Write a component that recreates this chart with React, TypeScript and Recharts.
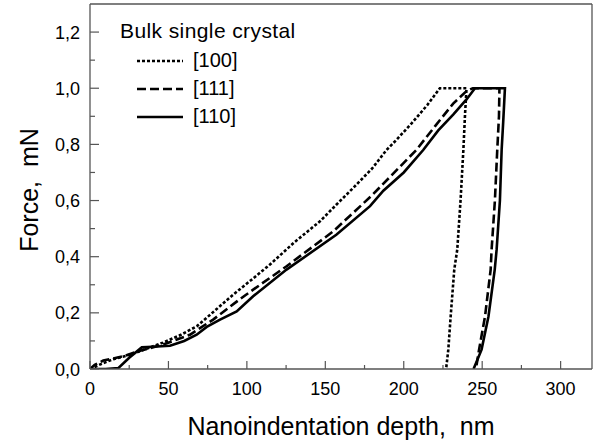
import { LineChart, Line, XAxis, YAxis, ReferenceLine } from "recharts";

// [100] orientation, dotted curve (loading -> hold -> unloading)
const depth100 = [0, 8, 15, 25.5, 35, 46.6, 58, 68, 79, 91.3, 103, 114.7, 130, 146.6, 157, 167.8, 180, 189, 195.5, 205, 215, 223, 240, 239, 238, 236.2, 234.1, 232.2, 229.9, 228.4, 227];
const force100 = [0, 0.02, 0.035, 0.051, 0.07, 0.094, 0.122, 0.152, 0.205, 0.265, 0.318, 0.372, 0.45, 0.526, 0.585, 0.645, 0.715, 0.78, 0.817, 0.875, 0.94, 1.0, 1.0, 0.9, 0.78, 0.6, 0.425, 0.354, 0.187, 0.069, 0];

// [111] orientation, dashed curve
const depth111 = [0, 3, 8.5, 21, 30.8, 46.6, 63.7, 78.5, 93.5, 98.8, 125.3, 155, 180, 208, 220, 231.5, 240, 244, 261, 260.7, 259.6, 258.1, 256, 255.4, 251.8, 248, 246];
const force111 = [0, 0.015, 0.03, 0.045, 0.063, 0.087, 0.122, 0.176, 0.24, 0.262, 0.366, 0.49, 0.62, 0.78, 0.865, 0.945, 0.99, 1.0, 1.0, 0.9, 0.78, 0.6, 0.425, 0.354, 0.187, 0.069, 0];

// [110] orientation, solid curve
const depth110 = [0, 10, 18, 25, 33, 40, 51, 60, 68, 74.4, 82.9, 93.5, 104, 125.3, 157, 178.5, 187, 200, 212.4, 222, 231.5, 240, 245.4, 264.5, 263.4, 262.4, 261.3, 259.2, 258, 254, 249.6, 244.5];
const force110 = [0, 0, 0.003, 0.04, 0.077, 0.079, 0.083, 0.1, 0.122, 0.15, 0.176, 0.205, 0.259, 0.354, 0.478, 0.58, 0.635, 0.7, 0.78, 0.85, 0.906, 0.96, 1.0, 1.0, 0.88, 0.78, 0.6, 0.425, 0.354, 0.187, 0.069, 0];

const xTicks = [0, 25, 50, 75, 100, 125, 150, 175, 200, 225, 250, 275, 300];
const yTicks = [0, 0.1, 0.2, 0.3, 0.4, 0.5, 0.6, 0.7, 0.8, 0.9, 1.0, 1.1, 1.2];

const series = [
  { name: "[100]", depth: depth100, force: force100, dash: "3 2" },
  { name: "[111]", depth: depth111, force: force111, dash: "9 4" },
  { name: "[110]", depth: depth110, force: force110, dash: undefined },
];

const PLOT_LEFT = 90;
const PLOT_BOTTOM = 369;
const AXIS_COLOR = "#555";
const FONT = "'Liberation Sans', Arial, sans-serif";

function zip(depth: number[], force: number[]) {
  return depth.map((d, i) => ({ depth: d, force: force[i] }));
}

function YTick(props: any) {
  const { y, payload } = props;
  const v = payload.value as number;
  const major = Math.round(v * 10) % 2 === 0;
  return (
    <g>
      <line x1={PLOT_LEFT} x2={PLOT_LEFT + (major ? 9 : 5)} y1={y} y2={y} stroke={AXIS_COLOR} strokeWidth={1.2} />
      {major && (
        <text x={PLOT_LEFT - 10} y={y} dy={6.5} textAnchor="end" fontSize={18} fontFamily={FONT} fill="#000">
          {v.toFixed(1).replace(".", ",")}
        </text>
      )}
    </g>
  );
}

function XTick(props: any) {
  const { x, payload } = props;
  const v = payload.value as number;
  const major = v % 50 === 0;
  return (
    <g>
      <line x1={x} x2={x} y1={PLOT_BOTTOM} y2={PLOT_BOTTOM - (major ? 8 : 4)} stroke={AXIS_COLOR} strokeWidth={1.2} />
      {major && (
        <text x={x} y={PLOT_BOTTOM + 26} textAnchor="middle" fontSize={18} fontFamily={FONT} fill="#000">
          {v}
        </text>
      )}
    </g>
  );
}

function ChartLegend() {
  return (
    <svg width={220} height={130} style={{ position: "absolute", left: 110, top: 10 }}>
      <text x={10} y={28} fontSize={21} letterSpacing={0.4} fontFamily={FONT} fill="#000">
        Bulk single crystal
      </text>
      {series.map((s, i) => (
        <g key={s.name}>
          <line x1={27} x2={73} y1={51 + i * 28} y2={51 + i * 28} stroke="#000" strokeWidth={2.6} strokeDasharray={s.dash} />
          <text x={83} y={57 + i * 28} fontSize={20} fontFamily={FONT} fill="#000">
            {s.name}
          </text>
        </g>
      ))}
    </svg>
  );
}

export default function App() {
  return (
    <div style={{ position: "absolute", left: 0, top: 0, width: 606, height: 445, background: "#fff" }}>
      <LineChart width={606} height={445} margin={{ top: 4, right: 14, left: 0, bottom: 0 }}>
        <XAxis
          type="number"
          dataKey="depth"
          domain={[0, 320]}
          ticks={xTicks}
          interval={0}
          height={76}
          tickLine={false}
          tickSize={0}
          tick={<XTick />}
          axisLine={{ stroke: AXIS_COLOR, strokeWidth: 1.3 }}
          allowDataOverflow
          label={{
            content: () => (
              <text x={341} y={435} textAnchor="middle" fontSize={25} fontFamily={FONT} fill="#000" style={{ whiteSpace: "pre" }}>
                {"Nanoindentation depth,  nm"}
              </text>
            ),
          }}
        />
        <YAxis
          type="number"
          dataKey="force"
          domain={[0, 1.3]}
          ticks={yTicks}
          interval={0}
          width={90}
          tickLine={false}
          tickSize={0}
          tick={<YTick />}
          axisLine={{ stroke: AXIS_COLOR, strokeWidth: 1.3 }}
          allowDataOverflow
          label={{
            content: () => (
              <text
                x={0}
                y={0}
                transform="translate(37.5,190) rotate(-90)"
                textAnchor="middle"
                fontSize={25}
                fontFamily={FONT}
                fill="#000"
                style={{ whiteSpace: "pre" }}
              >
                {"Force,  mN"}
              </text>
            ),
          }}
        />
        <ReferenceLine y={1.3} stroke={AXIS_COLOR} strokeWidth={1.3} />
        <ReferenceLine x={320} stroke={AXIS_COLOR} strokeWidth={1.3} />
        {series.map((s) => (
          <Line
            key={s.name}
            data={zip(s.depth, s.force)}
            dataKey="force"
            name={s.name}
            type="linear"
            stroke="#000"
            strokeWidth={2.6}
            strokeDasharray={s.dash}
            dot={false}
            activeDot={false}
            isAnimationActive={false}
          />
        ))}
      </LineChart>
      <ChartLegend />
    </div>
  );
}
